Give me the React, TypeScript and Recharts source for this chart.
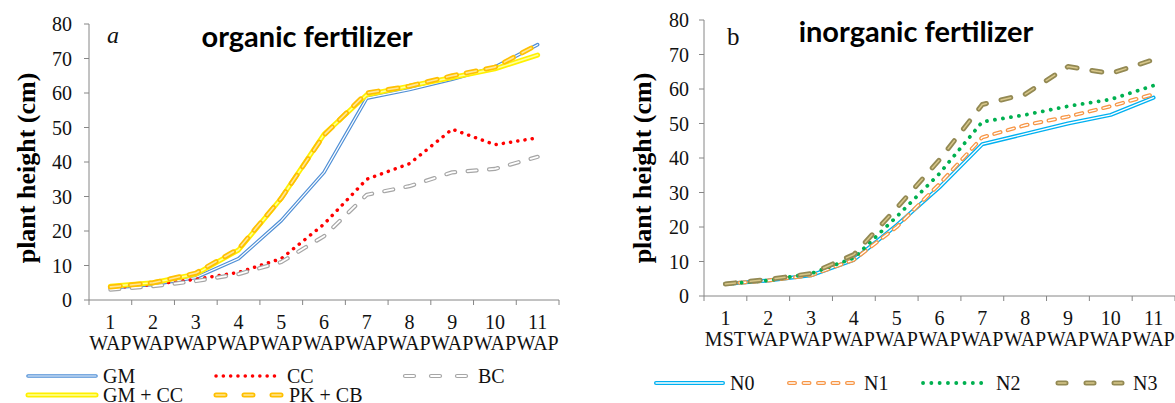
import React from 'react';
import { LineChart, Line, XAxis, YAxis } from 'recharts';

// categories / tick labels
const weeks = ['1', '2', '3', '4', '5', '6', '7', '8', '9', '10', '11'];
const unitsOrganic = ['WAP', 'WAP', 'WAP', 'WAP', 'WAP', 'WAP', 'WAP', 'WAP', 'WAP', 'WAP', 'WAP'];
const unitsInorganic = ['MST', 'WAP', 'WAP', 'WAP', 'WAP', 'WAP', 'WAP', 'WAP', 'WAP', 'WAP', 'WAP'];
const yTicks = [0, 10, 20, 30, 40, 50, 60, 70, 80];

// a: organic fertilizer (plant height, cm)
const gm = [3.5, 4.5, 6.5, 12, 23, 37, 58.5, 61, 64, 67.5, 74];
const cc = [3.5, 4.5, 6, 8, 12, 22, 35, 39.5, 49.5, 45, 47];
const bc = [3, 4, 5.5, 7.5, 11, 18.5, 30.5, 33, 37, 38, 41.5];
const gmcc = [4, 5, 7.5, 14.5, 29.5, 48, 59.5, 62, 64.5, 67, 71];
const pkcb = [3.8, 5, 7.8, 14.8, 29.5, 47.8, 60, 62, 65, 67.5, 74];

// b: inorganic fertilizer (plant height, cm)
const n0 = [3.5, 4.5, 6, 10.5, 20.5, 31.5, 44, 47, 50, 52.5, 57.5];
const n1 = [3.5, 4.5, 6, 10.5, 20, 32.5, 46, 49.5, 52, 55, 58.5];
const n2 = [3.5, 4.5, 6.5, 11, 23, 35.5, 50.5, 52.5, 55, 57, 61];
const n3 = [3.5, 4.8, 6.5, 12, 25.5, 39.5, 55.5, 58.5, 66.5, 64.5, 68.5];

const organicRows = weeks.map((w, i) => ({
  week: w, gm: gm[i], cc: cc[i], bc: bc[i], gmcc: gmcc[i], pkcb: pkcb[i],
}));
const inorganicRows = weeks.map((w, i) => ({
  week: w, n0: n0[i], n1: n1[i], n2: n2[i], n3: n3[i],
}));

type Sty = {
  key: string;
  name: string;
  color: string;
  width: number;
  dash?: string;
  legendDash?: string;
  inner?: string;
  innerWidth?: number;
};

const organicStyles: Sty[] = [
  { key: 'gm', name: 'GM', color: '#4F8FD6', width: 3.6, inner: '#ffffff', innerWidth: 1.2 },
  { key: 'cc', name: 'CC', color: '#FF0000', width: 3.5, dash: '0.1 7.2', legendDash: '0.1 7.2' },
  { key: 'bc', name: 'BC', color: '#A6A6A6', width: 4.2, dash: '9 12.5', legendDash: '9 17', inner: '#ffffff', innerWidth: 1.8 },
  { key: 'gmcc', name: 'GM + CC', color: '#FFF000', width: 5, inner: '#FFFF9A', innerWidth: 1.6 },
  { key: 'pkcb', name: 'PK + CB', color: '#FFC000', width: 5, dash: '10 10', legendDash: '9 19', inner: '#FFE699', innerWidth: 1.6 },
];

const inorganicStyles: Sty[] = [
  { key: 'n0', name: 'N0', color: '#00B0F0', width: 4, inner: '#ffffff', innerWidth: 1.3 },
  { key: 'n1', name: 'N1', color: '#F79646', width: 4, dash: '6.5 7.5', legendDash: '6 8.5', inner: '#ffffff', innerWidth: 1.4 },
  { key: 'n2', name: 'N2', color: '#00B050', width: 3.8, dash: '0.1 8', legendDash: '0.1 8.2' },
  { key: 'n3', name: 'N3', color: '#938953', width: 5, dash: '10 15', legendDash: '8 20', inner: '#D8C78A', innerWidth: 1.5 },
];

const SERIF = '"Liberation Serif", "Times New Roman", serif';
const AXIS = '#868686';

const renderLines = (styles: Sty[]) =>
  styles.flatMap((s) => {
    const out = [
      <Line
        key={s.key + '-o'}
        type="linear"
        dataKey={s.key}
        stroke={s.color}
        strokeWidth={s.width}
        strokeDasharray={s.dash}
        strokeLinecap="round"
        strokeLinejoin="round"
        dot={false}
        activeDot={false}
        isAnimationActive={false}
      />,
    ];
    if (s.inner) {
      out.push(
        <Line
          key={s.key + '-i'}
          type="linear"
          dataKey={s.key}
          stroke={s.inner}
          strokeWidth={s.innerWidth}
          strokeDasharray={s.dash}
          strokeLinecap="round"
          strokeLinejoin="round"
          dot={false}
          activeDot={false}
          isAnimationActive={false}
        />
      );
    }
    return out;
  });

// x tick: week number + unit on two lines, tick marks between categories
const WeekTick = (props: any) => {
  const { x, y, payload, units, bw, count } = props;
  const axisY = y - 5;
  const idx = payload.index;
  return (
    <g>
      <line x1={x - bw / 2} y1={axisY} x2={x - bw / 2} y2={axisY + 5} stroke={AXIS} />
      {idx === count - 1 && (
        <line x1={x + bw / 2} y1={axisY} x2={x + bw / 2} y2={axisY + 5} stroke={AXIS} />
      )}
      <text x={x} y={axisY + 29} textAnchor="middle" fontFamily={SERIF} fontSize={20} fill="#111">
        {payload.value}
      </text>
      <text x={x} y={axisY + 50} textAnchor="middle" fontFamily={SERIF} fontSize={20} fill="#111">
        {units[idx]}
      </text>
    </g>
  );
};

const LegendSample = ({ s, x1, x2, y }: { s: Sty; x1: number; x2: number; y: number }) => (
  <g>
    <line x1={x1} y1={y} x2={x2} y2={y} stroke={s.color} strokeWidth={s.width}
      strokeDasharray={s.legendDash || s.dash} strokeLinecap="round" />
    {s.inner && (
      <line x1={x1} y1={y} x2={x2} y2={y} stroke={s.inner} strokeWidth={s.innerWidth}
        strokeDasharray={s.legendDash || s.dash} strokeLinecap="round" />
    )}
  </g>
);

const Panel = ({
  rows, styles, units, width, plotL, plotR, top, bottom, tickMargin,
}: any) => {
  const bw = (plotR - plotL) / weeks.length;
  return (
    <LineChart
      width={width}
      height={403}
      data={rows}
      margin={{ top, right: width - plotR, bottom: bottom - 60, left: 0 }}
    >
      <XAxis
        dataKey="week"
        interval={0}
        height={60}
        tickSize={5}
        tickMargin={0}
        tickLine={false}
        padding={{ left: bw / 2, right: bw / 2 }}
        axisLine={{ stroke: AXIS }}
        tick={(p: any) => <WeekTick {...p} units={units} bw={bw} count={weeks.length} />}
      />
      <YAxis
        width={plotL}
        domain={[0, 80]}
        ticks={yTicks}
        tickSize={5}
        tickMargin={tickMargin}
        axisLine={{ stroke: AXIS }}
        tickLine={{ stroke: AXIS }}
        tick={{ fontSize: 20, fill: '#111', fontFamily: SERIF }}
      />
      {renderLines(styles)}
    </LineChart>
  );
};

export default function App() {
  return (
    <div style={{ position: 'absolute', left: 0, top: 0, width: 1175, height: 403, background: '#fff', overflow: 'hidden' }}>
      <div style={{ position: 'absolute', left: 0, top: 0 }}>
        <Panel rows={organicRows} styles={organicStyles} units={unitsOrganic}
          width={580} plotL={89} plotR={559} top={24} bottom={103} tickMargin={12} />
      </div>
      <div style={{ position: 'absolute', left: 590, top: 0 }}>
        <Panel rows={inorganicRows} styles={inorganicStyles} units={unitsInorganic}
          width={585} plotL={114} plotR={585} top={20} bottom={107} tickMargin={10} />
      </div>
      <svg width={1175} height={403} style={{ position: 'absolute', left: 0, top: 0, pointerEvents: 'none' }}>
        {/* panel a */}
        <text x={107} y={43} fontFamily={SERIF} fontStyle="italic" fontSize={24} fill="#111">a</text>
        <text x={307} y={47} textAnchor="middle" fontFamily="Lato, sans-serif" fontWeight={700} fontSize={29} fill="#000">
          organic fertilizer
        </text>
        <text x={35} y={168} transform="rotate(-90 35 168)" textAnchor="middle" fontFamily={SERIF}
          fontWeight={700} fontSize={26} fill="#000">
          plant height (cm)
        </text>
        {/* panel b */}
        <text x={727} y={45} fontFamily={SERIF} fontSize={25} fill="#111">b</text>
        <text x={916} y={42} textAnchor="middle" fontFamily="Lato, sans-serif" fontWeight={700} fontSize={29} fill="#000">
          inorganic fertilizer
        </text>
        <text x={651} y={168} transform="rotate(-90 651 168)" textAnchor="middle" fontFamily={SERIF}
          fontWeight={700} fontSize={26} fill="#000">
          plant height (cm)
        </text>

        {/* legends */}
        {[
          { s: organicStyles[0], x1: 28, x2: 96, y: 376 },
          { s: organicStyles[1], x1: 216, x2: 280, y: 376 },
          { s: organicStyles[2], x1: 405, x2: 471, y: 376 },
          { s: organicStyles[3], x1: 28, x2: 96, y: 395 },
          { s: organicStyles[4], x1: 216, x2: 282, y: 395 },
          { s: inorganicStyles[0], x1: 656, x2: 723, y: 383 },
          { s: inorganicStyles[1], x1: 789, x2: 857, y: 383 },
          { s: inorganicStyles[2], x1: 923, x2: 989, y: 383 },
          { s: inorganicStyles[3], x1: 1058, x2: 1126, y: 383 },
        ].map((e) => (
          <g key={e.s.key}>
            <LegendSample s={e.s} x1={e.x1} x2={e.x2} y={e.y} />
            <text x={e.x2 + 7} y={e.y + 6.5} fontFamily={SERIF} fontSize={20} fill="#111">{e.s.name}</text>
          </g>
        ))}
      </svg>
    </div>
  );
}
